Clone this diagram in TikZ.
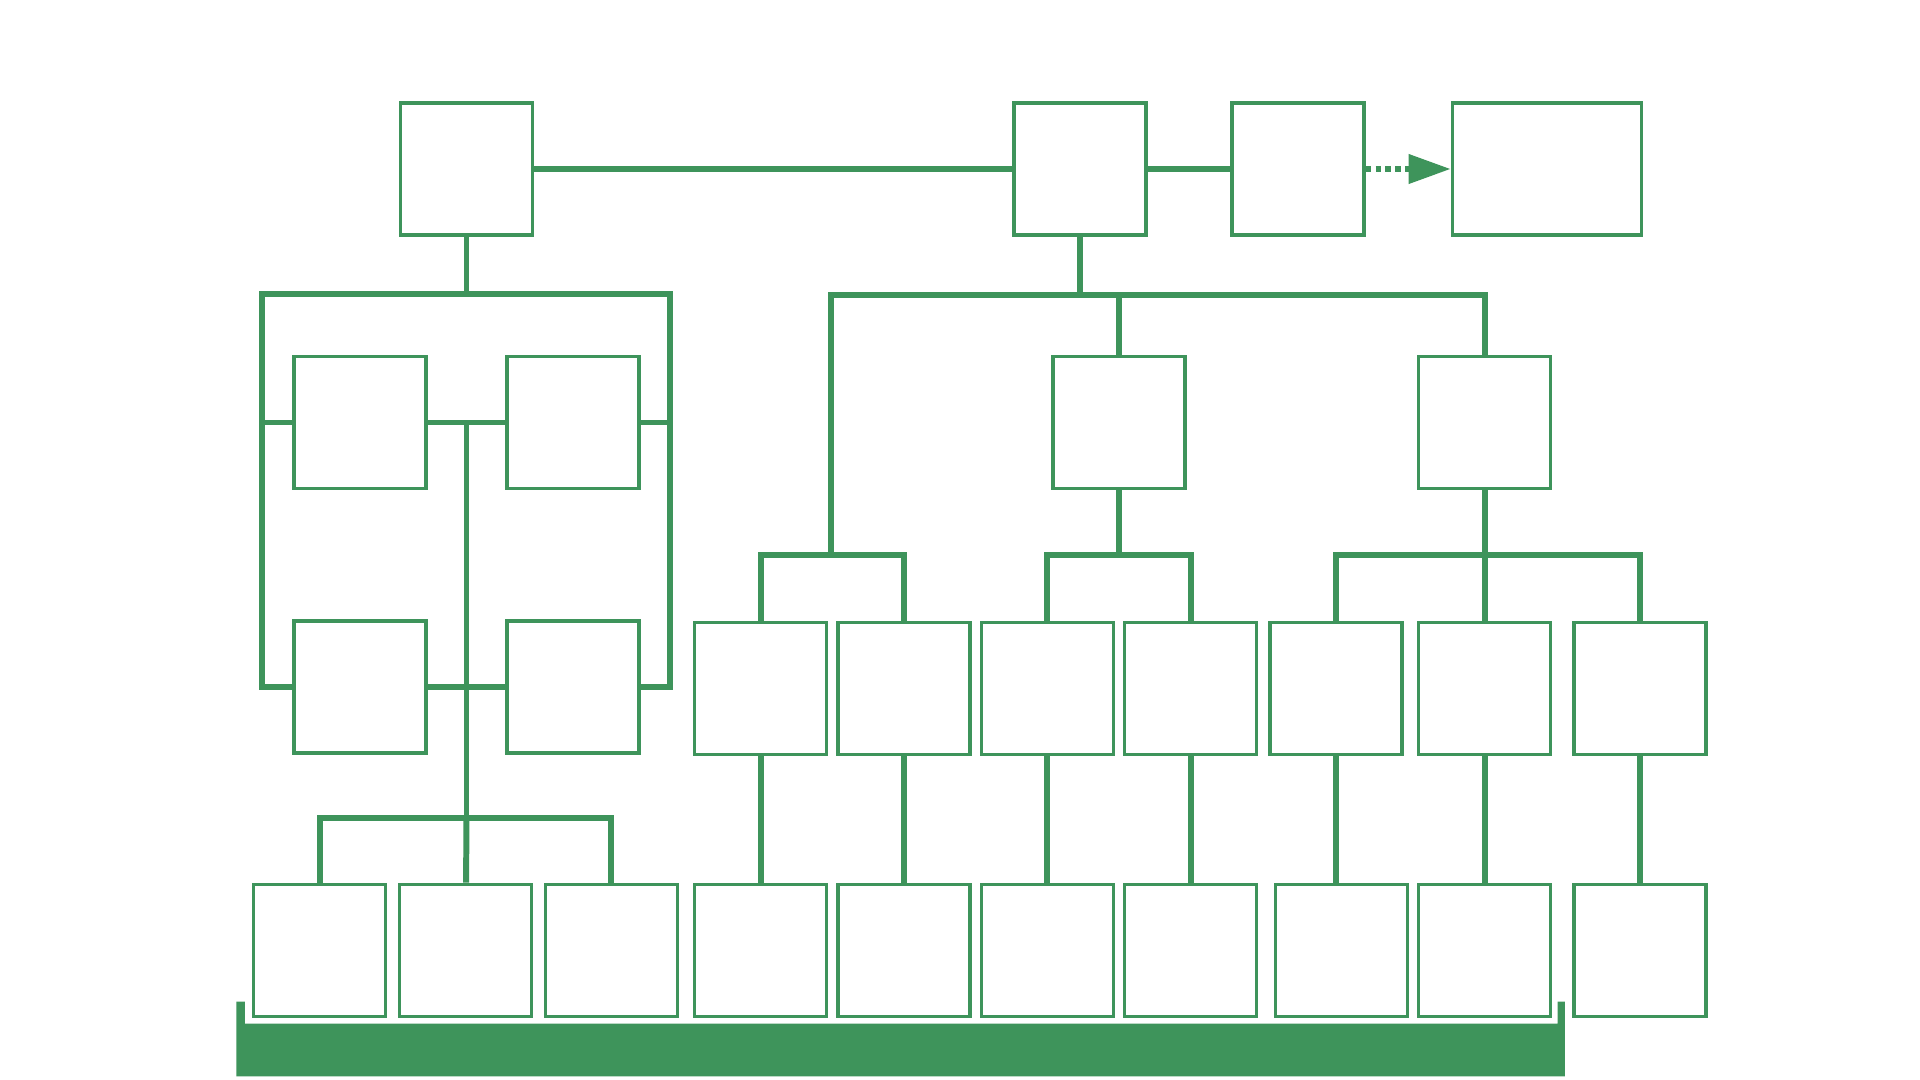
\documentclass[tikz,border=0pt]{standalone}
\usepackage{tikz}
\usetikzlibrary{shapes, arrows.meta, positioning}
\definecolor{orggreen}{RGB}{62,148,91}
\tikzstyle{block} =
        [
                rectangle,
                draw = orggreen,
                line width = 0.95pt,
                fill = white,
                minimum width = 1.32cm,
                minimum height = 1.32cm,
                inner sep = 0pt
        ]
\tikzstyle{wideblock} =
        [
                block,
                minimum width = 1.89cm
        ]
\tikzstyle{line} =
        [
                draw = orggreen,
                line width = 1.7pt
        ]
\tikzstyle{arrowline} =
        [
                draw = orggreen,
                line width = 1.9pt,
                dash pattern = on 1.6pt off 1.2pt,
                -{Triangle[length = 12pt, width = 8pt, fill = orggreen]}
        ]

\begin{document}
\begin{tikzpicture}[node distance = 2cm, auto]
        \useasboundingbox (0,0) rectangle (19.2,-10.8);

        \node [block] at (4.665,-1.69) (chief) {};
        \node [block, right of = chief, node distance = 6.135cm] (head) {};
        \node [block, right of = head, node distance = 2.18cm] (deputy) {};
        \node [wideblock, right of = deputy, node distance = 2.49cm] (outside) {};

        \node [block] at (3.196,-9.502) (staff1) {};
        \node [block, right of = staff1, node distance = 1.46cm] (staff2) {};
        \node [block, right of = staff2, node distance = 1.457cm] (staff3) {};
        \node [block, right of = staff3, node distance = 1.494cm] (staff4) {};
        \node [block, right of = staff4, node distance = 1.433cm] (staff5) {};
        \node [block, right of = staff5, node distance = 1.433cm] (staff6) {};
        \node [block, right of = staff6, node distance = 1.433cm] (staff7) {};
        \node [block, right of = staff7, node distance = 1.506cm] (staff8) {};
        \node [block, right of = staff8, node distance = 1.433cm] (staff9) {};
        \node [block, right of = staff9, node distance = 1.555cm] (staff10) {};

        \node [block, above of = staff4, node distance = 2.62cm] (team1) {};
        \node [block, above of = staff5, node distance = 2.62cm] (team2) {};
        \node [block, above of = staff6, node distance = 2.62cm] (team3) {};
        \node [block, above of = staff7, node distance = 2.62cm] (team4) {};
        \node [block] at (13.36,-6.882) (team5) {};
        \node [block, above of = staff9, node distance = 2.62cm] (team6) {};
        \node [block, above of = staff10, node distance = 2.62cm] (team7) {};

        \node [block] at (11.19,-4.225) (boss1) {};
        \node [block, above of = team6, node distance = 2.657cm] (boss2) {};

        \node [block] at (3.60,-6.87) (left3) {};
        \node [block, right of = left3, node distance = 2.131cm] (left4) {};
        \node [block, above of = left3, node distance = 2.645cm] (left1) {};
        \node [block, above of = left4, node distance = 2.645cm] (left2) {};

        \coordinate (lbusl) at (2.62,-2.939);
        \coordinate (lbusr) at (6.698,-2.939);
        \coordinate (lfork) at (4.665,-8.18);
        \coordinate (fork1) at (8.31,-5.547);
        \coordinate (rbus) at (8.31,-2.951);

        \path [line] (chief) -- (head);
        \path [line] (head) -- (deputy);
        \path [arrowline] (deputy) -- (outside);

        \path [line] (chief) -- (chief |- lbusl);
        \path [line] (left3) -| (lbusl) -- (lbusr) |- (left4);
        \path [line] (left1) -- (left1 -| lbusl);
        \path [line] (left2) -- (left2 -| lbusr);
        \path [line] (left1) -- (left2);
        \path [line] (left3) -- (left4);
        \path [line] (lfork |- left1) -- (lfork);
        \path [line] (staff1) |- (lfork) -| (staff3);
        \path [line] (lfork) -- (staff2);

        \path [line] (head) -- (head |- rbus);
        \path [line] (fork1) -- (rbus) -| (boss2);
        \path [line] (boss1) -- (boss1 |- rbus);
        \path [line] (team1) |- (fork1) -| (team2);
        \path [line] (boss1) -- (boss1 |- fork1);
        \path [line] (team3) |- (boss1 |- fork1) -| (team4);
        \path [line] (boss2) -- (boss2 |- fork1);
        \path [line] (team5) |- (boss2 |- fork1) -| (team7);
        \path [line] (boss2 |- fork1) -- (team6);

        \path [line] (team1) -- (staff4);
        \path [line] (team2) -- (staff5);
        \path [line] (team3) -- (staff6);
        \path [line] (team4) -- (staff7);
        \path [line] (team5) -- (team5 |- staff8.north);
        \path [line] (team6) -- (staff9);
        \path [line] (team7) -- (staff10);

%        bar under the lowest row
        \fill [orggreen] (2.363,-10.017) -- (2.449,-10.017) -- (2.449,-10.237) -- (15.576,-10.237)
                -- (15.576,-10.017) -- (15.649,-10.017) -- (15.649,-10.763) -- (2.363,-10.763) -- cycle;
\end{tikzpicture}
\end{document}
